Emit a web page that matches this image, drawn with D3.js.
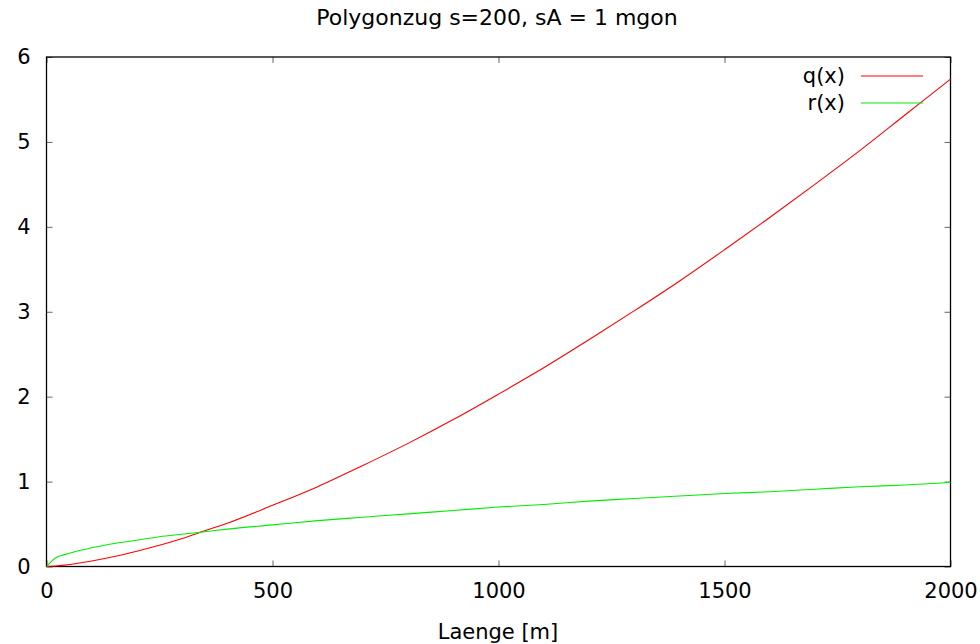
<!DOCTYPE html>
<meta charset="utf-8">
<style>
body { margin: 0; background: #fff; }
text { font-family: "DejaVu Sans", sans-serif; fill: #000; }
</style>
<script src="https://d3js.org/d3.v7.min.js"></script>
<body>
<script>

// sample positions along the traverse [m]
var xs = [0, 20, 40, 60, 100, 150, 200, 250, 300, 350, 400, 500, 600, 700, 800, 900, 1000,
          1100, 1200, 1300, 1400, 1500, 1600, 1700, 1800, 1900, 2000];
// q(x)
var qVals = [0, 0.006, 0.016, 0.030, 0.064, 0.117, 0.18, 0.25, 0.33, 0.42, 0.51, 0.72, 0.94, 1.19, 1.45,
             1.73, 2.03, 2.34, 2.67, 3.01, 3.36, 3.73, 4.11, 4.50, 4.90, 5.32, 5.74];
// r(x)
var rVals = [0, 0.10, 0.14, 0.17, 0.22, 0.27, 0.31, 0.35, 0.38, 0.41, 0.44, 0.49, 0.54, 0.58, 0.62,
             0.66, 0.70, 0.73, 0.77, 0.80, 0.83, 0.86, 0.88, 0.91, 0.94, 0.96, 0.99];

var xTicks = [0, 500, 1000, 1500, 2000];
var yTicks = [0, 1, 2, 3, 4, 5, 6];
var seriesNames = ["q(x)", "r(x)"];
var seriesColors = ["#ff0000", "#00ee00"];

var W = 980, H = 644;
var m = {left: 46.5, right: 950.5, top: 57, bottom: 566.5};

var svg = d3.select("body").append("svg")
    .attr("width", W)
    .attr("height", H);

var x = d3.scaleLinear().domain([0, 2000]).range([m.left, m.right]);
var y = d3.scaleLinear().domain([0, 6]).range([m.bottom, m.top]);

// axes with small inward ticks, mirrored on all four sides
function styleAxis(g) {
  g.select(".domain").remove();
  g.selectAll(".tick line").attr("stroke", "#666");
  g.selectAll(".tick text").style("font-size", "21px").attr("fill", "#000");
}

svg.append("g")
    .attr("transform", "translate(0," + m.bottom + ")")
    .call(d3.axisBottom(x).tickValues(xTicks).tickSize(-6).tickPadding(17).tickFormat(d3.format("d")))
    .call(styleAxis);

svg.append("g")
    .attr("transform", "translate(0," + m.top + ")")
    .call(d3.axisTop(x).tickValues(xTicks).tickSize(-6).tickFormat(""))
    .call(styleAxis);

svg.append("g")
    .attr("transform", "translate(" + m.left + ",0)")
    .call(d3.axisLeft(y).tickValues(yTicks).tickSize(-6).tickPadding(16).tickFormat(d3.format("d")))
    .call(styleAxis);

svg.append("g")
    .attr("transform", "translate(" + m.right + ",0)")
    .call(d3.axisRight(y).tickValues(yTicks).tickSize(-6).tickFormat(""))
    .call(styleAxis);

// frame
svg.append("rect")
    .attr("x", m.left).attr("y", m.top)
    .attr("width", m.right - m.left).attr("height", m.bottom - m.top)
    .attr("fill", "none")
    .attr("stroke", "#000")
    .attr("stroke-width", 1.3);

var line = d3.line()
    .x(function(d) { return x(d[0]); })
    .y(function(d) { return y(d[1]); })
    .curve(d3.curveMonotoneX);

[qVals, rVals].forEach(function(vals, i) {
  svg.append("path")
      .datum(xs.map(function(v, j) { return [v, vals[j]]; }))
      .attr("fill", "none")
      .attr("stroke", seriesColors[i])
      .attr("stroke-width", 1.1)
      .attr("d", line);
});

// legend
var legend = svg.append("g");
seriesNames.forEach(function(name, i) {
  var ly = 76 + i * 27;
  legend.append("text")
      .attr("x", 845).attr("y", ly + 7)
      .attr("text-anchor", "end")
      .style("font-size", "21px")
      .text(name);
  legend.append("line")
      .attr("x1", 861).attr("x2", 923)
      .attr("y1", ly).attr("y2", ly)
      .attr("stroke", seriesColors[i])
      .attr("stroke-width", 1.1);
});

svg.append("text")
    .attr("x", 497).attr("y", 25)
    .attr("text-anchor", "middle")
    .style("font-size", "22px")
    .text("Polygonzug s=200, sA = 1 mgon");

svg.append("text")
    .attr("x", 498).attr("y", 639)
    .attr("text-anchor", "middle")
    .style("font-size", "21px")
    .text("Laenge [m]");

</script>
</body>
